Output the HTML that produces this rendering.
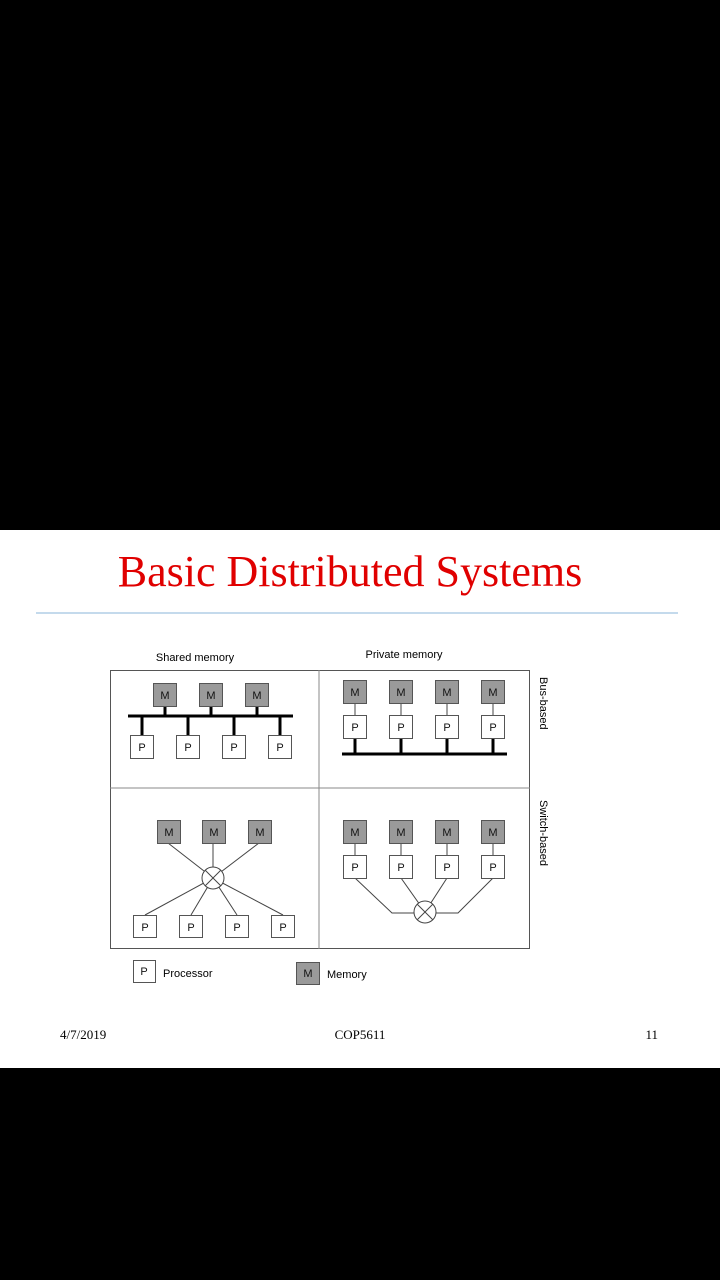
<!DOCTYPE html>
<html><head><style>
body{margin:0;width:720px;height:1280px;background:#000;position:relative;overflow:hidden}
.s{position:absolute;left:0;top:530px;width:720px;height:538px;background:#fff}
</style></head><body>
<div class="s"></div>
<svg width="720" height="1280" style="position:absolute;left:0;top:0" font-family="Liberation Sans, sans-serif">
<text x="350" y="586" text-anchor="middle" font-family="Liberation Serif, serif" font-size="44" fill="#e00000">Basic Distributed Systems</text>
<line x1="36" y1="613" x2="678" y2="613" stroke="#8ab4d8" stroke-width="1"/>
<g font-size="11" fill="#000">
<text x="195" y="661" text-anchor="middle">Shared memory</text>
<text x="404" y="658" text-anchor="middle">Private memory</text>
<text transform="translate(540,677) rotate(90)">Bus-based</text>
<text transform="translate(540,800) rotate(90)">Switch-based</text>
</g>
<rect x="110.5" y="670.5" width="419" height="278" fill="none" stroke="#555"/>
<line x1="319" y1="670" x2="319" y2="949" stroke="#888"/>
<line x1="110" y1="788" x2="530" y2="788" stroke="#888"/>
<g stroke="#000" stroke-width="3">
<line x1="128" y1="716" x2="293" y2="716"/>
<line x1="165" y1="706" x2="165" y2="716"/><line x1="211" y1="706" x2="211" y2="716"/><line x1="257" y1="706" x2="257" y2="716"/>
<line x1="142" y1="716" x2="142" y2="735"/><line x1="188" y1="716" x2="188" y2="735"/><line x1="234" y1="716" x2="234" y2="735"/><line x1="280" y1="716" x2="280" y2="735"/>
<line x1="342" y1="754" x2="507" y2="754"/>
<line x1="355" y1="738" x2="355" y2="754"/><line x1="401" y1="738" x2="401" y2="754"/><line x1="447" y1="738" x2="447" y2="754"/><line x1="493" y1="738" x2="493" y2="754"/>
</g>
<g stroke="#444" stroke-width="1" fill="none">
<line x1="355" y1="703" x2="355" y2="715"/><line x1="401" y1="703" x2="401" y2="715"/><line x1="447" y1="703" x2="447" y2="715"/><line x1="493" y1="703" x2="493" y2="715"/>
<line x1="355" y1="843" x2="355" y2="855"/><line x1="401" y1="843" x2="401" y2="855"/><line x1="447" y1="843" x2="447" y2="855"/><line x1="493" y1="843" x2="493" y2="855"/>
<line x1="168" y1="843" x2="213" y2="878"/><line x1="213" y1="843" x2="213" y2="878"/><line x1="259" y1="843" x2="213" y2="878"/>
<line x1="145" y1="915" x2="213" y2="878"/><line x1="191" y1="915" x2="213" y2="878"/><line x1="237" y1="915" x2="213" y2="878"/><line x1="283" y1="915" x2="213" y2="878"/>
<circle cx="213" cy="878" r="11" fill="#fff"/>
<line x1="205" y1="870" x2="221" y2="886"/><line x1="221" y1="870" x2="205" y2="886"/>
<polyline points="355,878 392,913 414,913"/><polyline points="493,878 458,913 436,913"/>
<line x1="401" y1="878" x2="425" y2="912"/><line x1="447" y1="878" x2="425" y2="912"/>
<circle cx="425" cy="912" r="11" fill="#fff"/>
<line x1="417" y1="904" x2="433" y2="920"/><line x1="433" y1="904" x2="417" y2="920"/>
</g>
<g font-size="11" text-anchor="middle" stroke-width="1">
<g fill="#9a9a9a" stroke="#555">
<rect x="153.5" y="683.5" width="23" height="23"/><rect x="199.5" y="683.5" width="23" height="23"/><rect x="245.5" y="683.5" width="23" height="23"/>
<rect x="343.5" y="680.5" width="23" height="23"/><rect x="389.5" y="680.5" width="23" height="23"/><rect x="435.5" y="680.5" width="23" height="23"/><rect x="481.5" y="680.5" width="23" height="23"/>
<rect x="157.5" y="820.5" width="23" height="23"/><rect x="202.5" y="820.5" width="23" height="23"/><rect x="248.5" y="820.5" width="23" height="23"/>
<rect x="343.5" y="820.5" width="23" height="23"/><rect x="389.5" y="820.5" width="23" height="23"/><rect x="435.5" y="820.5" width="23" height="23"/><rect x="481.5" y="820.5" width="23" height="23"/>
<rect x="296.5" y="962.5" width="23" height="22"/>
</g>
<g fill="#fff" stroke="#555">
<rect x="130.5" y="735.5" width="23" height="23"/><rect x="176.5" y="735.5" width="23" height="23"/><rect x="222.5" y="735.5" width="23" height="23"/><rect x="268.5" y="735.5" width="23" height="23"/>
<rect x="343.5" y="715.5" width="23" height="23"/><rect x="389.5" y="715.5" width="23" height="23"/><rect x="435.5" y="715.5" width="23" height="23"/><rect x="481.5" y="715.5" width="23" height="23"/>
<rect x="133.5" y="915.5" width="23" height="22"/><rect x="179.5" y="915.5" width="23" height="22"/><rect x="225.5" y="915.5" width="23" height="22"/><rect x="271.5" y="915.5" width="23" height="22"/>
<rect x="343.5" y="855.5" width="23" height="23"/><rect x="389.5" y="855.5" width="23" height="23"/><rect x="435.5" y="855.5" width="23" height="23"/><rect x="481.5" y="855.5" width="23" height="23"/>
<rect x="133.5" y="960.5" width="22" height="22"/>
</g>
<g fill="#111">
<text x="165" y="699">M</text><text x="211" y="699">M</text><text x="257" y="699">M</text>
<text x="355" y="696">M</text><text x="401" y="696">M</text><text x="447" y="696">M</text><text x="493" y="696">M</text>
<text x="169" y="836">M</text><text x="214" y="836">M</text><text x="260" y="836">M</text>
<text x="355" y="836">M</text><text x="401" y="836">M</text><text x="447" y="836">M</text><text x="493" y="836">M</text>
<text x="142" y="751">P</text><text x="188" y="751">P</text><text x="234" y="751">P</text><text x="280" y="751">P</text>
<text x="355" y="731">P</text><text x="401" y="731">P</text><text x="447" y="731">P</text><text x="493" y="731">P</text>
<text x="145" y="931">P</text><text x="191" y="931">P</text><text x="237" y="931">P</text><text x="283" y="931">P</text>
<text x="355" y="871">P</text><text x="401" y="871">P</text><text x="447" y="871">P</text><text x="493" y="871">P</text>
<text x="144" y="975">P</text><text x="308" y="977">M</text>
</g>
</g>
<text x="163" y="977" font-size="11">Processor</text>
<text x="327" y="978" font-size="11">Memory</text>
<g font-family="Liberation Serif, serif" font-size="13" fill="#000">
<text x="60" y="1039">4/7/2019</text>
<text x="360" y="1039" text-anchor="middle">COP5611</text>
<text x="658" y="1039" text-anchor="end">11</text>
</g>
</svg>
</body></html>
